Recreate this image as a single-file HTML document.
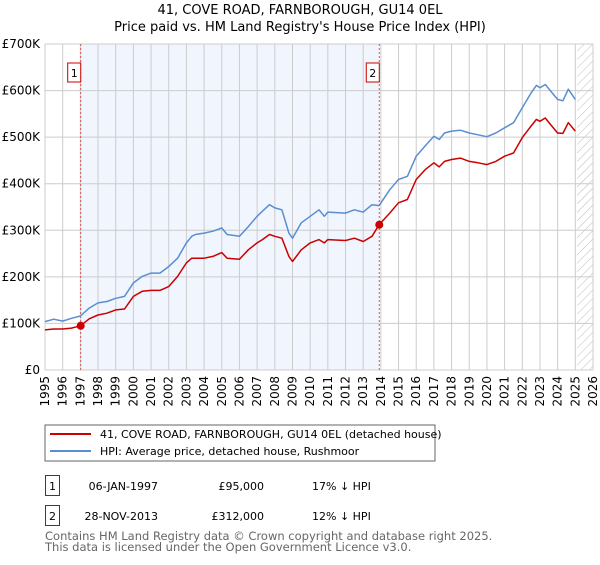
<!DOCTYPE html>
<html><head><meta charset="utf-8"><style>
body{margin:0;background:#fff;font-family:"Liberation Sans","DejaVu Sans",sans-serif;}
svg text{font-family:"DejaVu Sans","Liberation Sans",sans-serif;}
</style></head><body>
<svg id="c" width="600" height="560" xmlns="http://www.w3.org/2000/svg">
<text x="300" y="14" text-anchor="middle" font-size="13">41, COVE ROAD, FARNBOROUGH, GU14 0EL</text>
<text x="300" y="31" text-anchor="middle" font-size="13">Price paid vs. HM Land Registry's House Price Index (HPI)</text>
<defs><pattern id="h" width="6" height="6" patternUnits="userSpaceOnUse" patternTransform="rotate(45)"><line x1="0" y1="0" x2="0" y2="6" stroke="#bbb" stroke-width="1"/></pattern></defs>
<g id="plot"></g>
<rect x="45" y="425" width="390" height="36" fill="#fff" stroke="#666"/>
<line x1="50" y1="434" x2="91" y2="434" stroke="#cc0000" stroke-width="2"/>
<text x="100" y="438" font-size="11">41, COVE ROAD, FARNBOROUGH, GU14 0EL (detached house)</text>
<line x1="50" y1="451" x2="91" y2="451" stroke="#5a8ed0" stroke-width="2"/>
<text x="100" y="455" font-size="11">HPI: Average price, detached house, Rushmoor</text>
<g font-size="11">
<rect x="45.5" y="475.5" width="14" height="20" fill="none" stroke="#cc0000"/>
<text x="52.5" y="490" text-anchor="middle">1</text>
<text x="158" y="490" text-anchor="end">06-JAN-1997</text>
<text x="264" y="490" text-anchor="end">£95,000</text>
<text x="312" y="490">17% ↓ HPI</text>
<rect x="45.5" y="505.5" width="14" height="20" fill="none" stroke="#cc0000"/>
<text x="52.5" y="520" text-anchor="middle">2</text>
<text x="158" y="520" text-anchor="end">28-NOV-2013</text>
<text x="264" y="520" text-anchor="end">£312,000</text>
<text x="312" y="520">12% ↓ HPI</text>
</g>
<text x="45" y="540" font-size="11.5" fill="#666">Contains HM Land Registry data © Crown copyright and database right 2025.</text>
<text x="45" y="551" font-size="11.5" fill="#666">This data is licensed under the Open Government Licence v3.0.</text>
</svg>
<script>
const hpiYears=[1995,1995.5,1996,1996.5,1997,1997.5,1998,1998.5,1999,1999.5,2000,2000.5,2001,2001.5,2002,2002.5,2003,2003.3,2003.5,2004,2004.5,2005,2005.3,2006,2006.5,2007,2007.3,2007.7,2008,2008.4,2008.8,2009,2009.5,2010,2010.5,2010.8,2011,2012,2012.5,2013,2013.5,2013.9,2014.5,2015,2015.5,2016,2016.5,2017,2017.3,2017.6,2018,2018.5,2019,2019.5,2020,2020.5,2021,2021.5,2022,2022.5,2022.8,2023,2023.3,2023.6,2024,2024.3,2024.6,2025];
const hpiValues=[104,109,105,111,116,133,144,147,154,158,187,201,208,208,222,240,273,287,291,294,298,305,291,287,308,330,341,355,348,344,294,283,316,330,344,330,339,337,344,339,355,353,387,409,416,459,481,502,495,509,513,515,509,505,501,509,520,531,563,595,611,606,613,599,581,578,603,581];
const priceValues=[86,88,88,90,95,110,118,122,129,131,158,169,171,171,179,201,230,240,240,240,244,252,240,238,258,273,280,291,287,283,244,233,258,273,280,273,280,278,283,276,287,312,337,359,366,409,430,445,436,448,452,455,448,445,441,448,459,466,499,524,538,534,541,527,509,508,531,513];
const sales=[{year:1997.02,value:95,label:"1"},{year:2013.91,value:312,label:"2"}];
const yTicks=[0,100,200,300,400,500,600,700];
const yTickLabels=["£0","£100K","£200K","£300K","£400K","£500K","£600K","£700K"];
const xTicks=[];for(let y=1995;y<=2026;y++)xTicks.push(y);
const X0=45,X1=593,Y0=370,Y1=44;
const xs=y=>X0+(y-1995)/(2026-1995)*(X1-X0);
const ys=v=>Y0-v/700*(Y0-Y1);
const NS="http://www.w3.org/2000/svg";
const g=document.getElementById('plot');
function mk(t,a){const e=document.createElementNS(NS,t);for(const k in a)e.setAttribute(k,a[k]);g.appendChild(e);return e;}
let e=mk('rect',{x:xs(sales[0].year),y:Y1,width:xs(sales[1].year)-xs(sales[0].year),height:Y0-Y1,fill:'#eef3fc',opacity:0.8});


e=mk('rect',{x:xs(2025.1),y:Y1,width:X1-xs(2025.1),height:Y0-Y1,fill:'url(#h)'});


xTicks.forEach(t=>{
 let l=mk('line',{x1:xs(t),x2:xs(t),y1:Y1,y2:Y0,stroke:'#ccc','stroke-width':1});
 
 
 let tx=mk('text',{x:0,y:0,'font-size':12,'text-anchor':'end',transform:`translate(${xs(t)+4},${Y0+6}) rotate(-90)`});
 tx.textContent=t;
 
 
});
yTicks.forEach((t,i)=>{
 let l=mk('line',{x1:X0,x2:X1,y1:ys(t),y2:ys(t),stroke:'#ccc','stroke-width':1});
 
 
 let tx=mk('text',{x:40,y:ys(t)+4,'font-size':12,'text-anchor':'end'});
 tx.textContent=yTickLabels[i];
 
 
});
sales.forEach(s=>{
 let l=mk('line',{x1:xs(s.year),x2:xs(s.year),y1:Y1,y2:Y0,stroke:'#e05050','stroke-width':1,'stroke-dasharray':'2,2'});
 
 
 let r=mk('rect',{x:xs(s.year)-13,y:63,width:13,height:19,fill:'#fff',stroke:'#cc0000'});
 
 
 let t=mk('text',{x:xs(s.year)-6.5,y:77,'font-size':11,'text-anchor':'middle'});
 t.textContent=s.label;
 
 
});
function path(vals,col,name){
 const d=vals.map((v,i)=>(i?'L':'M')+xs(hpiYears[i]).toFixed(1)+','+ys(v).toFixed(1)).join('');
 const p=mk('path',{d:d,fill:'none',stroke:col,'stroke-width':1.5,'stroke-linejoin':'round'});
 
 
}
path(hpiValues,'#5a8ed0','hpi-line');
path(priceValues,'#cc0000','property-line');
sales.forEach(s=>{
 const c=mk('circle',{cx:xs(s.year),cy:ys(s.value),r:4,fill:'#cc0000'});
 
 
});
</script>
</body></html>
